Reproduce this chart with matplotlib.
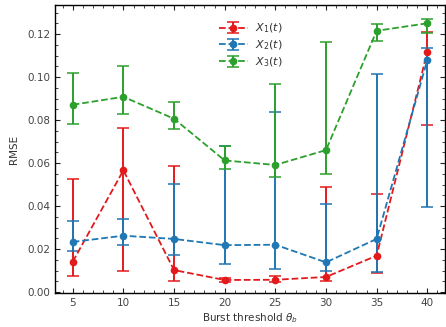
import numpy as np
from matplotlib import pyplot as plt
from matplotlib.ticker import MultipleLocator

plt.rcParams.update({'font.size': 7.5, 'font.family': ['DejaVu Sans'],
                     'text.color': '#333333', 'axes.labelcolor': '#333333',
                     'xtick.color': '#222222', 'ytick.color': '#222222',
                     'xtick.labelcolor': '#444444', 'ytick.labelcolor': '#444444'})

thresholds = [5, 10, 15, 20, 25, 30, 35, 40]

# RMSE per series, with lower / upper ends of the error bars
x1_mean = [0.0141, 0.0566, 0.0102, 0.0056, 0.0057, 0.0070, 0.0169, 0.1118]
x1_low = [0.0074, 0.0096, 0.0053, 0.0048, 0.0045, 0.0050, 0.0090, 0.0775]
x1_high = [0.0527, 0.0763, 0.0588, 0.0064, 0.0073, 0.0487, 0.0457, 0.1210]

x2_mean = [0.0233, 0.0262, 0.0247, 0.0218, 0.0220, 0.0138, 0.0247, 0.1079]
x2_low = [0.0192, 0.0220, 0.0171, 0.0129, 0.0105, 0.0096, 0.0093, 0.0397]
x2_high = [0.0332, 0.0341, 0.0504, 0.0679, 0.0839, 0.0409, 0.1014, 0.1136]

x3_mean = [0.0871, 0.0908, 0.0806, 0.0612, 0.0591, 0.0660, 0.1215, 0.1250]
x3_low = [0.0781, 0.0826, 0.0757, 0.0572, 0.0536, 0.0549, 0.1167, 0.1205]
x3_high = [0.1017, 0.1053, 0.0882, 0.0679, 0.0969, 0.1161, 0.1247, 0.1270]

labels = [r'$X_1(t)$', r'$X_2(t)$', r'$X_3(t)$']
colors = ['#e31a1c', '#1f77b4', '#2ca02c']

fig = plt.figure(figsize=(4.46, 3.27), dpi=100)
ax = fig.add_axes([0.1233, 0.103, 0.8745, 0.8817])

series = [(x1_mean, x1_low, x1_high), (x2_mean, x2_low, x2_high), (x3_mean, x3_low, x3_high)]
for (mean, low, high), label, color in zip(series, labels, colors):
    mean = np.array(mean)
    yerr = [mean - np.array(low), np.array(high) - mean]
    ax.errorbar(thresholds, mean, yerr=yerr, fmt='o--', color=color, label=label,
                markersize=4.5, linewidth=1.3, elinewidth=1.4, capsize=4, capthick=1.1)

ax.set_xlim(3.25, 41.75)
ax.set_ylim(-0.0006, 0.1335)
ax.set_xticks(thresholds)
ax.xaxis.set_minor_locator(MultipleLocator(1))
ax.yaxis.set_major_locator(MultipleLocator(0.02))
ax.yaxis.set_minor_locator(MultipleLocator(0.005))
ax.yaxis.set_major_formatter(plt.FormatStrFormatter('%.2f'))
ax.tick_params(which='both', direction='in', top=True, right=True)
ax.tick_params(which='major', length=3.5, width=0.8)
ax.tick_params(which='minor', length=2, width=0.6)
for s in ax.spines.values():
    s.set_linewidth(1.0)

ax.set_xlabel(r'Burst threshold $\theta_b$', labelpad=2)
ax.set_ylabel('RMSE', labelpad=6)
ax.legend(loc='upper left', bbox_to_anchor=(0.395, 0.977), frameon=False,
          fontsize=8, handlelength=2.6, labelspacing=0.3, handletextpad=0.6)

fig.savefig('out.png', dpi=100)
